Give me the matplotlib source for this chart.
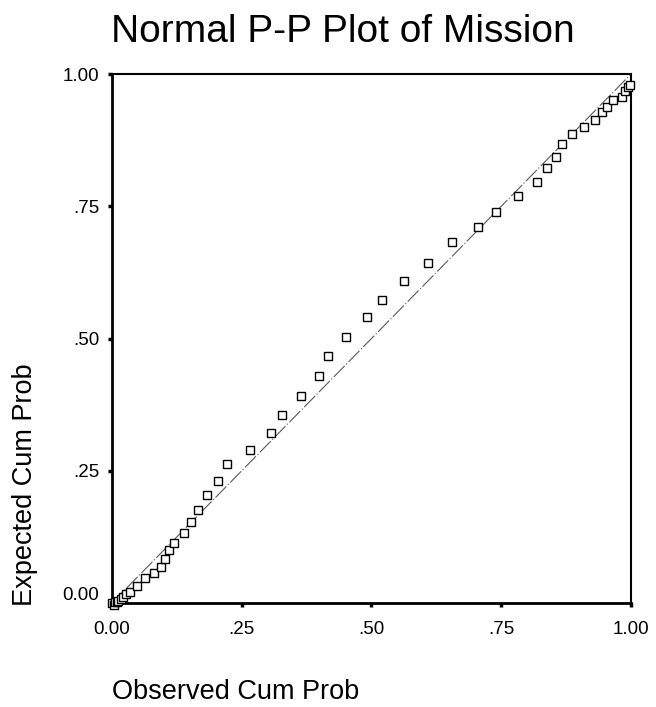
import matplotlib
matplotlib.use('Agg')
import matplotlib.pyplot as plt
import matplotlib.transforms as mtransforms

# observed / expected cumulative probabilities
observed = [0.000, 0.003, 0.006, 0.009, 0.012, 0.017, 0.022, 0.027, 0.035, 0.048,
            0.064, 0.080, 0.094, 0.102, 0.109, 0.120, 0.139, 0.152, 0.166, 0.184,
            0.204, 0.221, 0.266, 0.306, 0.328, 0.365, 0.398, 0.417, 0.450, 0.491,
            0.521, 0.563, 0.608, 0.656, 0.705, 0.740, 0.782, 0.818, 0.839, 0.855,
            0.868, 0.886, 0.909, 0.931, 0.944, 0.953, 0.966, 0.982, 0.988, 0.995,
            0.998]
expected = [0.000, -0.004, 0.001, 0.002, 0.003, 0.007, 0.012, 0.017, 0.021, 0.033,
            0.047, 0.057, 0.069, 0.084, 0.100, 0.113, 0.132, 0.154, 0.176, 0.205,
            0.231, 0.262, 0.289, 0.322, 0.355, 0.392, 0.430, 0.467, 0.503, 0.540,
            0.573, 0.608, 0.642, 0.682, 0.711, 0.740, 0.770, 0.795, 0.822, 0.843,
            0.867, 0.887, 0.900, 0.914, 0.929, 0.938, 0.951, 0.957, 0.967, 0.976,
            0.979]

tick_vals = [0.0, 0.25, 0.5, 0.75, 1.0]
tick_labels = ['0.00', '.25', '.50', '.75', '1.00']
diag = [0.0, 1.0]

plt.rcParams['font.family'] = ['Liberation Sans', 'DejaVu Sans']

fig = plt.figure(figsize=(6.56, 7.07), dpi=100)
ax = fig.add_axes([0.1707, 0.1471, 0.7912, 0.7482])

# reference line
ax.plot(diag, diag, color='0.35', lw=0.8, linestyle=(0, (14, 2, 1, 2)), zorder=2)

ax.plot(observed, expected, linestyle='none', marker='s', markersize=6.2,
        markerfacecolor='white', markeredgecolor='black', markeredgewidth=1.0,
        clip_on=False, zorder=3)

ax.set_xlim(0, 1)
ax.set_ylim(0, 1)
ax.set_xticks(tick_vals)
ax.set_yticks(tick_vals)
ax.set_xticklabels(tick_labels)
ax.set_yticklabels(tick_labels)

ax.tick_params(axis='x', direction='out', length=3, width=2.5, pad=10, labelsize=13.5)
ax.tick_params(axis='y', direction='out', length=3, width=2.5, pad=6, labelsize=13.5)

for side in ['left', 'bottom']:
    ax.spines[side].set_linewidth(2.0)
for side in ['top', 'right']:
    ax.spines[side].set_linewidth(1.5)

# the 0.00 on the y axis sits a bit above its tick
lab0 = ax.get_yticklabels()[0]
lab0.set_transform(lab0.get_transform() + mtransforms.ScaledTranslation(0, 7 / 72, fig.dpi_scale_trans))

fig.text(0.522, 0.9406, 'Normal P-P Plot of Mission', fontsize=28, ha='center', va='baseline')
fig.text(0.038, 0.314, 'Expected Cum Prob', fontsize=19.5, rotation=90, ha='center', va='center')
fig.text(0.1707, 0.0113, 'Observed Cum Prob', fontsize=19.5, ha='left', va='baseline')

fig.savefig('out.png', dpi=100)
